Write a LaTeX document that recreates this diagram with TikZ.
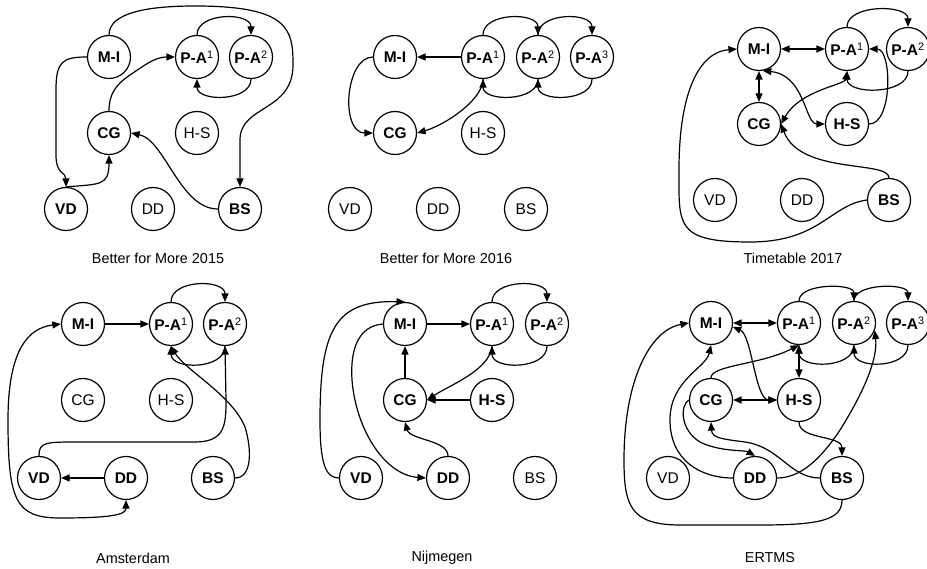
\documentclass[tikz,border=0pt]{standalone}
\usepackage{fontspec}
\setmainfont{Liberation Sans}
\usetikzlibrary{arrows.meta}
% superscript index of a P-A node, set in regular weight
\newcommand\paidx[1]{\textsuperscript{\mdseries #1}}
\begin{document}
\begin{tikzpicture}[x=1pt,y=-1pt,
  nd/.style={circle,draw,line width=1.2pt,minimum size=43pt,inner sep=0pt,font=\fontsize{15.5}{18}\selectfont},
  bnd/.style={nd,font=\fontsize{15.5}{18}\selectfont\bfseries},
  lnk/.style={line width=1.2pt,-{Triangle[length=8.5pt,width=7pt]}},
  dbl/.style={line width=1.2pt,{Triangle[length=8.5pt,width=7pt]}-{Triangle[length=8.5pt,width=7pt]}},
  ttl/.style={font=\fontsize{14.4}{17}\selectfont}]
\useasboundingbox (0,0) rectangle (927,569);

% ---------- Better for More 2015 ----------
\node[bnd] (aMI)  at (109,57)  {M-I};
\node[bnd] (aPA1) at (197,57)  {P-A\paidx{1}};
\node[bnd] (aPA2) at (251,57)  {P-A\paidx{2}};
\node[bnd] (aCG)  at (109,133) {CG};
\node[nd]  (aHS)  at (197,133) {H-S};
\node[bnd] (aVD)  at (66,209)  {VD};
\node[nd]  (aDD)  at (153,209) {DD};
\node[bnd] (aBS)  at (240,209) {BS};
\node[ttl] (aT)   at (158,258) {Better for More 2015};

\draw[lnk] (aMI.north) .. controls (109,12) and (150,6) .. (195,6)
  .. controls (290,6) and (293,30) .. (293,65)
  .. controls (293,112) and (240,105) .. (240,140) -- (aBS.north);
\draw[lnk] (aMI.west) .. controls (62,57) and (56,62) .. (56,90) -- (56,155)
  .. controls (56,175) and (66,172) .. (aVD.north);
\draw[lnk] (aVD.north) .. controls (100,184) and (109,186) .. (aCG.south);
\draw[lnk] (aCG.north) .. controls (109,95) and (115,85) .. (130,75)
  .. controls (145,65) and (155,57) .. (aPA1.west);
\draw[lnk] (aPA1.north) .. controls (197,12) and (251,12) .. (aPA2.north);
\draw[lnk] (aPA2.south) .. controls (251,102) and (197,102) .. (aPA1.south);
\draw[lnk] (aBS.west) .. controls (180,209) and (165,140) .. (aCG.east);

% ---------- Better for More 2016 ----------
\node[bnd] (bMI)  at (395,57)  {M-I};
\node[bnd] (bPA1) at (483,57)  {P-A\paidx{1}};
\node[bnd] (bPA2) at (538,57)  {P-A\paidx{2}};
\node[bnd] (bPA3) at (592,57)  {P-A\paidx{3}};
\node[bnd] (bCG)  at (395,133) {CG};
\node[nd]  (bHS)  at (483,133) {H-S};
\node[nd]  (bVD)  at (350,209) {VD};
\node[nd]  (bDD)  at (438,209) {DD};
\node[nd]  (bBS)  at (526,209) {BS};
\node[ttl] (bT)   at (446,258) {Better for More 2016};

\draw[lnk] (bPA1) -- (bMI);
\draw[lnk] (bMI.west) .. controls (345,57) and (340,133) .. (bCG.west);
\draw[lnk] (bPA1.south) .. controls (483,100) and (445,125) .. (bCG.east);
\draw[lnk] (bPA1.north) .. controls (483,12) and (538,12) .. (bPA2.north);
\draw[lnk] (bPA2.north) .. controls (538,12) and (592,12) .. (bPA3.north);
\draw[lnk] (bPA2.south) .. controls (538,102) and (483,102) .. (bPA1.south);
\draw[lnk] (bPA3.south) .. controls (592,102) and (538,102) .. (bPA2.south);

% ---------- Timetable 2017 ----------
\node[bnd] (cMI)  at (759,49)  {M-I};
\node[bnd] (cPA1) at (847,49)  {P-A\paidx{1}};
\node[bnd] (cPA2) at (908,49)  {P-A\paidx{2}};
\node[bnd] (cCG)  at (759,124) {CG};
\node[bnd] (cHS)  at (847,124) {H-S};
\node[nd]  (cVD)  at (715,200) {VD};
\node[nd]  (cDD)  at (802,200) {DD};
\node[bnd] (cBS)  at (889,200) {BS};
\node[ttl] (cT)   at (793,258) {Timetable 2017};

\draw[dbl] (cMI) -- (cPA1);
\draw[dbl] (cMI) -- (cCG);
\draw[dbl] (cMI.-80) .. controls (805,75) and (805,124) .. (cHS.west);
\draw[dbl] (cPA1.south) .. controls (845,85) and (800,90) .. (cCG.east);
\draw[lnk] (cPA1.north) .. controls (847,4) and (908,4) .. (cPA2.north);
\draw[lnk] (cPA2.south) .. controls (908,95) and (847,95) .. (cPA1.south);
\draw[lnk] (cHS.east) .. controls (893,124) and (892,49) .. (cPA1.east);
\draw[lnk] (cBS.north) .. controls (889,160) and (800,175) .. (cCG.east);
\draw[lnk] (cBS.west) .. controls (830,205) and (820,242) .. (750,242)
  .. controls (675,242) and (679,225) .. (679,170)
  .. controls (679,90) and (700,52) .. (cMI.west);

% ---------- Amsterdam ----------
\node[bnd] (dMI)  at (83,324)  {M-I};
\node[bnd] (dPA1) at (171,324) {P-A\paidx{1}};
\node[bnd] (dPA2) at (225,324) {P-A\paidx{2}};
\node[nd]  (dCG)  at (83,400)  {CG};
\node[nd]  (dHS)  at (171,400) {H-S};
\node[bnd] (dVD)  at (39,478)  {VD};
\node[bnd] (dDD)  at (126,478) {DD};
\node[bnd] (dBS)  at (213,478) {BS};
\node[ttl] (dT)   at (133,558) {Amsterdam};

\draw[lnk] (dMI) -- (dPA1);
\draw[lnk] (dPA1.north) .. controls (171,279) and (225,279) .. (dPA2.north);
\draw[lnk] (dPA2.south) .. controls (225,370) and (171,370) .. (dPA1.south);
\draw[lnk] (dVD.north) .. controls (39,442) and (45,442) .. (80,442) -- (195,442)
  .. controls (225,442) and (226,425) .. (226,400) -- (dPA2.south);
\draw[lnk] (dBS.east) .. controls (252,478) and (252,450) .. (245,427)
  .. controls (232,395) and (185,370) .. (dPA1.south);
\draw[lnk] (dDD) -- (dVD);
\draw[dbl] (dMI.west) .. controls (28,328) and (8,350) .. (8,420)
  .. controls (8,500) and (15,518) .. (60,518)
  .. controls (110,518) and (126,515) .. (dDD.south);

% ---------- Nijmegen ----------
\node[bnd] (eMI)  at (405,324) {M-I};
\node[bnd] (ePA1) at (492,324) {P-A\paidx{1}};
\node[bnd] (ePA2) at (547,324) {P-A\paidx{2}};
\node[bnd] (eCG)  at (405,400) {CG};
\node[bnd] (eHS)  at (492,400) {H-S};
\node[bnd] (eVD)  at (361,478) {VD};
\node[bnd] (eDD)  at (448,478) {DD};
\node[nd]  (eBS)  at (535,478) {BS};
\node[ttl] (eT)   at (442,558) {Nijmegen};

\draw[lnk] (eMI) -- (ePA1);
\draw[lnk] (ePA1.north) .. controls (492,279) and (547,279) .. (ePA2.north);
\draw[lnk] (ePA2.south) .. controls (547,370) and (492,370) .. (ePA1.south);
\draw[lnk] (ePA1.south) .. controls (490,370) and (450,385) .. (eCG.east);
\draw[lnk] (eHS) -- (eCG);
\draw[lnk] (eCG) -- (eMI);
\draw[lnk] (eDD.north) .. controls (448,440) and (410,440) .. (eCG.south);
\draw[lnk] (eVD.west) .. controls (325,478) and (320,462) .. (320,420)
  .. controls (320,330) and (335,300) .. (eMI.north);
\draw[lnk] (eMI.west) .. controls (358,326) and (350,350) .. (352,380)
  .. controls (356,430) and (385,475) .. (eDD.west);

% ---------- ERTMS ----------
\node[bnd] (fMI)  at (711,323) {M-I};
\node[bnd] (fPA1) at (799,323) {P-A\paidx{1}};
\node[bnd] (fPA2) at (854,323) {P-A\paidx{2}};
\node[bnd] (fPA3) at (908,323) {P-A\paidx{3}};
\node[bnd] (fCG)  at (711,400) {CG};
\node[bnd] (fHS)  at (799,400) {H-S};
\node[nd]  (fVD)  at (668,478) {VD};
\node[bnd] (fDD)  at (755,478) {DD};
\node[bnd] (fBS)  at (842,478) {BS};
\node[ttl] (fT)   at (770,558) {ERTMS};

\draw[dbl] (fMI) -- (fPA1);
\draw[lnk] (fPA1.north) .. controls (799,283) and (854,283) .. (fPA2.north);
\draw[lnk] (fPA2.north) .. controls (854,283) and (908,283) .. (fPA3.north);
\draw[lnk] (fPA2.south) .. controls (854,369) and (799,369) .. (fPA1.south);
\draw[lnk] (fPA3.south) .. controls (908,369) and (854,369) .. (fPA2.south);
\draw[dbl] (fPA1) -- (fHS);
\draw[dbl] (fMI.-10) .. controls (752,335) and (755,400) .. (fHS.west);
\draw[dbl] (fCG) -- (fHS);
\draw[lnk] (fCG.north) .. controls (711,365) and (760,365) .. (fPA1.south);
\draw[lnk] (fDD.east) .. controls (800,478) and (820,460) .. (840,430)
  .. controls (862,395) and (878,360) .. (fPA2.-20);
\draw[lnk] (fHS.south) .. controls (799,440) and (842,435) .. (fBS.north);
\draw[lnk] (fBS.west) .. controls (790,478) and (780,447) .. (745,442)
  .. controls (722,439) and (712,438) .. (fCG.south);
\draw[lnk] (fCG.west) .. controls (680,405) and (680,430) .. (700,442)
  .. controls (720,452) and (745,450) .. (fDD.north);
\draw[lnk] (fDD.west) .. controls (700,478) and (670,460) .. (670,420)
  .. controls (670,380) and (706,368) .. (fMI.south);
\draw[lnk] (fBS.south) .. controls (842,520) and (820,525) .. (760,525) -- (680,525)
  .. controls (630,525) and (624,505) .. (624,460)
  .. controls (624,380) and (650,330) .. (fMI.west);
\end{tikzpicture}
\end{document}
